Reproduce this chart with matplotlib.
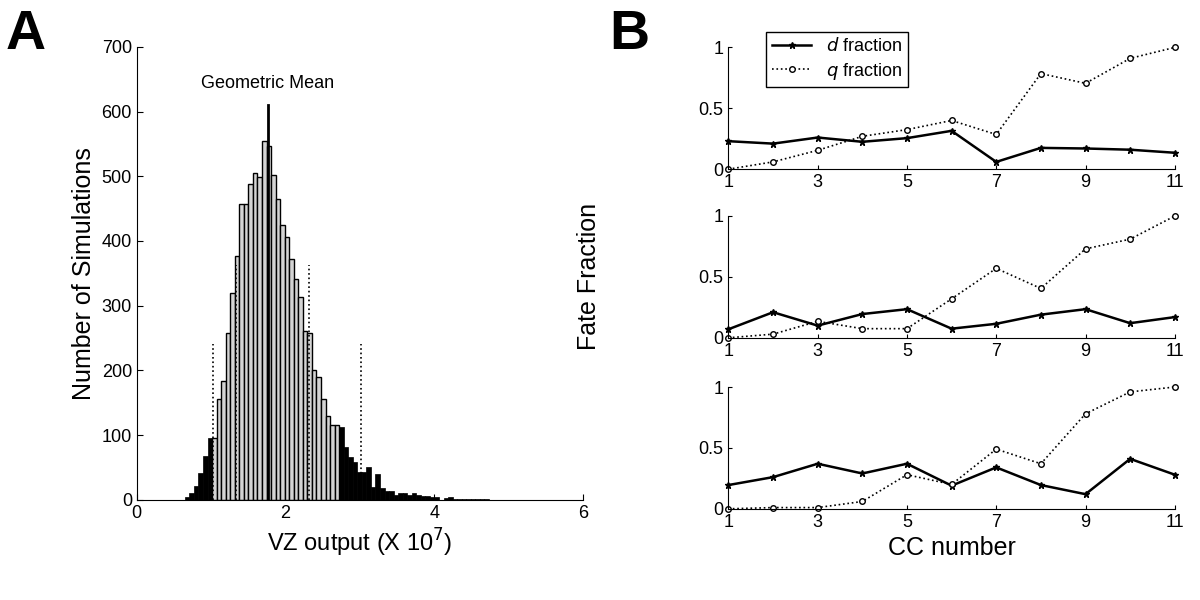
import matplotlib.pyplot as plt
import numpy as np

plt.rcParams['font.family'] = ['Liberation Sans', 'DejaVu Sans']
plt.rcParams['mathtext.fontset'] = 'dejavusans'

# Panel A histogram (bin width ~0.061, starting at ~0.646)
bin_start = 0.646
bin_width = 0.061
black_left = [5, 10, 22, 42, 68, 95]
grey_counts = [96, 156, 184, 257, 320, 377, 457, 457, 488, 505, 499, 555, 546, 502,
               465, 425, 406, 372, 341, 314, 261, 257, 201, 189, 156, 130, 116, 115]
black_right = [113, 82, 66, 58, 43, 43, 50, 20, 40, 19, 14, 14, 8, 10, 10, 8, 10, 7,
               6, 6, 5, 5, 0, 3, 4, 2, 2, 2, 2, 1, 2, 2, 1]
geo_mean = 1.763
geo_top = 610
dotted_x = [1.02, 1.34, 2.315, 3.02]
dotted_top = [240, 363, 363, 240]

# Panel B fate fractions
cc = [1, 2, 3, 4, 5, 6, 7, 8, 9, 10, 11]
d_frac = [
    [0.23, 0.21, 0.26, 0.225, 0.255, 0.315, 0.06, 0.175, 0.17, 0.16, 0.135],
    [0.07, 0.21, 0.10, 0.195, 0.235, 0.075, 0.115, 0.19, 0.235, 0.12, 0.17],
    [0.195, 0.26, 0.37, 0.29, 0.37, 0.19, 0.34, 0.195, 0.12, 0.41, 0.28],
]
q_frac = [
    [0.0, 0.06, 0.155, 0.27, 0.325, 0.40, 0.285, 0.785, 0.705, 0.91, 1.0],
    [0.0, 0.03, 0.135, 0.075, 0.075, 0.32, 0.57, 0.405, 0.73, 0.81, 1.0],
    [0.0, 0.01, 0.01, 0.06, 0.28, 0.20, 0.49, 0.37, 0.78, 0.96, 1.0],
]

fig = plt.figure(figsize=(12, 6), dpi=100)

# ---- A ----
ax = fig.add_axes([0.114, 0.167, 0.372, 0.755])
counts = black_left + grey_counts + black_right
n1, n2 = len(black_left), len(black_left) + len(grey_counts)
lefts = bin_start + bin_width * np.arange(len(counts))
for i, (x, c) in enumerate(zip(lefts, counts)):
    if n1 <= i < n2:
        ax.bar(x, c, width=bin_width, align='edge', color='#d4d4d4', edgecolor='black', lw=1.0, zorder=2)
    else:
        ax.bar(x, c, width=bin_width, align='edge', color='black', edgecolor='black', lw=0.5, zorder=2)
for x, t in zip(dotted_x, dotted_top):
    ax.plot([x, x], [0, t], color='black', ls=':', lw=1.2, zorder=3)
ax.plot([geo_mean, geo_mean], [0, geo_top], color='black', lw=2, zorder=4)
ax.text(geo_mean, 630, 'Geometric Mean', ha='center', va='bottom', fontsize=13)
ax.set_xlim(0, 6)
ax.set_ylim(0, 700)
ax.set_xticks([0, 2, 4, 6])
ax.set_yticks(range(0, 701, 100))
ax.tick_params(direction='in', labelsize=13, length=4)
for s in ['top', 'right']:
    ax.spines[s].set_visible(False)
ax.set_xlabel('VZ output (X 10$^{7}$)', fontsize=17)
ax.set_ylabel('Number of Simulations', fontsize=18)
fig.text(0.005, 0.985, 'A', fontsize=40, fontweight='bold', va='top')

# ---- B ----
bottoms = [0.718, 0.437, 0.152]
for k in range(3):
    axb = fig.add_axes([0.607, bottoms[k], 0.372, 0.203])
    axb.plot(cc, d_frac[k], color='black', lw=1.8, marker='*', ms=5, clip_on=False, label='$d$ fraction')
    axb.plot(cc, q_frac[k], color='black', lw=1.2, ls=':', marker='o', ms=4,
             mfc='white', clip_on=False, label='$q$ fraction')
    axb.set_xlim(1, 11)
    axb.set_ylim(0, 1)
    axb.set_xticks([1, 3, 5, 7, 9, 11])
    axb.set_yticks([0, 0.5, 1])
    axb.set_yticklabels(['0', '0.5', '1'])
    axb.tick_params(direction='in', labelsize=13, length=3)
    for s in ['top', 'right']:
        axb.spines[s].set_visible(False)
    if k == 0:
        axb.legend(loc='upper left', bbox_to_anchor=(0.631, 0.962), bbox_transform=fig.transFigure,
                   fontsize=13, frameon=True, fancybox=False, edgecolor='black', framealpha=1,
                   handlelength=2.2, borderpad=0.3, labelspacing=0.3)
    if k == 1:
        axb.set_ylabel('Fate Fraction', fontsize=18, labelpad=70)
    if k == 2:
        axb.set_xlabel('CC number', fontsize=18)
fig.text(0.508, 0.985, 'B', fontsize=40, fontweight='bold', va='top')

fig.savefig('out.png', dpi=100)
